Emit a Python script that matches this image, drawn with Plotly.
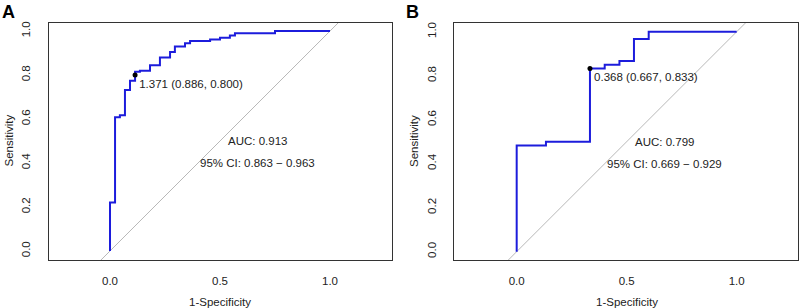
import plotly.graph_objects as go

# Panel A ROC curve (1-specificity, sensitivity), step corners
fpr_a = [0, 0, 0.023, 0.045, 0.068, 0.091, 0.114, 0.136, 0.182, 0.227, 0.273, 0.295,
         0.341, 0.364, 0.455, 0.5, 0.545, 0.568, 0.75, 1.0]
tpr_a = [0, 0.22, 0.608, 0.617, 0.732, 0.774, 0.815, 0.82, 0.845, 0.88, 0.905, 0.93,
         0.945, 0.955, 0.962, 0.97, 0.98, 0.99, 1.0, 1.0]
best_a = (0.114, 0.800)
label_a = "1.371 (0.886, 0.800)"
auc_a = "AUC: 0.913"
ci_a = "95% CI: 0.863 \u2212 0.963"

# Panel B
fpr_b = [0, 0, 0.133, 0.333, 0.4, 0.467, 0.533, 0.6, 1.0]
tpr_b = [0, 0.483, 0.5, 0.833, 0.85, 0.867, 0.967, 1.0, 1.0]
best_b = (0.333, 0.833)
label_b = "0.368 (0.667, 0.833)"
auc_b = "AUC: 0.799"
ci_b = "95% CI: 0.669 \u2212 0.929"

tick_vals_x = [0.0, 0.5, 1.0]
tick_text_x = ["0.0", "0.5", "1.0"]
tick_vals_y = [0.0, 0.2, 0.4, 0.6, 0.8, 1.0]
tick_text_y = ["0.0", "0.2", "0.4", "0.6", "0.8", "1.0"]

FONT = "Liberation Sans, Arial, sans-serif"
BLUE = "#1c1cdc"

fig = go.Figure()

panels = [
    (fpr_a, tpr_a, best_a, label_a, auc_a, ci_a, "x", "y"),
    (fpr_b, tpr_b, best_b, label_b, auc_b, ci_b, "x2", "y2"),
]

for fpr, tpr, best, lab, auc, ci, xa, ya in panels:
    # diagonal reference line
    fig.add_trace(go.Scatter(x=[-0.05, 1.05], y=[-0.05, 1.05], mode="lines",
                             line=dict(color="#b8b8b8", width=1), xaxis=xa, yaxis=ya,
                             showlegend=False, hoverinfo="skip"))
    fig.add_trace(go.Scatter(x=fpr, y=tpr, mode="lines", line_shape="hv",
                             line=dict(color=BLUE, width=2), xaxis=xa, yaxis=ya,
                             showlegend=False))
    fig.add_trace(go.Scatter(x=[best[0]], y=[best[1]], mode="markers+text",
                             marker=dict(color="black", size=5),
                             text=[lab], textposition="bottom right",
                             textfont=dict(family=FONT, size=11.5, color="#222"),
                             xaxis=xa, yaxis=ya, showlegend=False))
    fig.add_annotation(x=0.67, y=0.5, xref=xa, yref=ya, text=auc, showarrow=False,
                       xanchor="center", yanchor="middle",
                       font=dict(family=FONT, size=11.5, color="#222"))
    fig.add_annotation(x=0.67, y=0.4, xref=xa, yref=ya, text=ci, showarrow=False,
                       xanchor="center", yanchor="middle",
                       font=dict(family=FONT, size=11.5, color="#222"))

y_dom = [1 - 260 / 308, 1 - 22.7 / 308]
axis_common = dict(showgrid=False, zeroline=False, showline=True, mirror=True,
                   linecolor="#333", linewidth=1, ticks="", ticklen=0, automargin=False,
                   tickfont=dict(family=FONT, size=11.5, color="#222"))

fig.update_layout(
    width=800, height=308,
    margin=dict(l=0, r=0, t=0, b=0),
    plot_bgcolor="white", paper_bgcolor="white",
    xaxis=dict(domain=[48.7 / 800, 391.7 / 800], range=[-0.2786, 1.2805], anchor="y",
               tickvals=tick_vals_x, ticktext=tick_text_x, ticklabelstandoff=10, **axis_common),
    yaxis=dict(domain=y_dom, range=[-0.041, 1.038], anchor="x",
               tickvals=tick_vals_y, ticktext=tick_text_y, tickangle=-90,
               ticklabelstandoff=13, **axis_common),
    xaxis2=dict(domain=[454.3 / 800, 798.3 / 800], range=[-0.2836, 1.28], anchor="y2",
                tickvals=tick_vals_x, ticktext=tick_text_x, ticklabelstandoff=10, **axis_common),
    yaxis2=dict(domain=y_dom, range=[-0.038, 1.041], anchor="x2",
                tickvals=tick_vals_y, ticktext=tick_text_y, tickangle=-90,
                ticklabelstandoff=13, **axis_common),
)

# Panel letters and axis titles
for letter, xp in [("A", 0.0), ("B", 404 / 800)]:
    fig.add_annotation(x=xp, y=1.0, xref="paper", yref="paper", text=f"<b>{letter}</b>",
                       showarrow=False, xanchor="left", yanchor="top",
                       font=dict(family=FONT, size=18, color="black"))
for xc in [220 / 800, 626.7 / 800]:
    fig.add_annotation(x=xc, y=1 - 301.5 / 308, xref="paper", yref="paper",
                       text="1-Specificity", showarrow=False,
                       xanchor="center", yanchor="middle",
                       font=dict(family=FONT, size=11.5, color="#222"))
for xc in [8.5 / 800, 414 / 800]:
    fig.add_annotation(x=xc, y=1 - 141 / 308, xref="paper", yref="paper",
                       text="Sensitivity", showarrow=False, textangle=-90,
                       xanchor="center", yanchor="middle",
                       font=dict(family=FONT, size=11.5, color="#222"))

fig.write_html("out.html", config={"displayModeBar": False},
               post_script="document.body.style.margin='0';")
